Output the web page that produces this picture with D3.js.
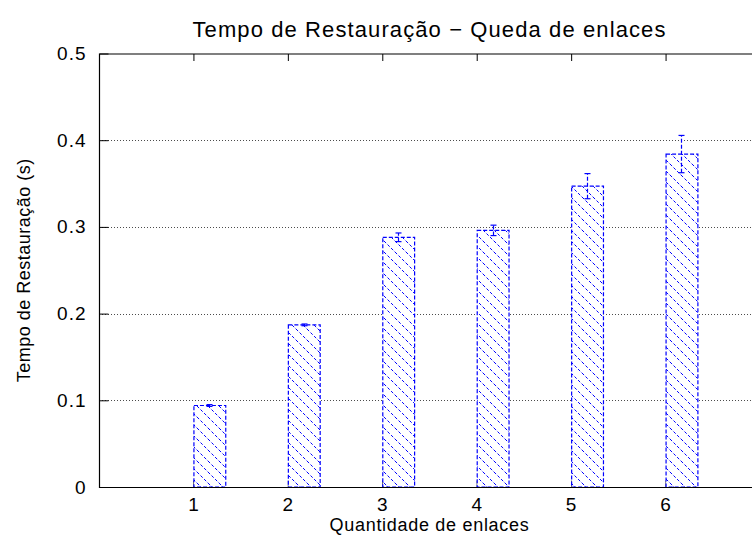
<!DOCTYPE html>
<html>
<head>
<meta charset="utf-8">
<script src="https://cdn.jsdelivr.net/npm/d3@7"></script>
<style>
  html, body { margin: 0; padding: 0; background: #fff; overflow: hidden; }
  svg { display: block; }
  text { font-family: "Liberation Sans", Arial, Helvetica, sans-serif; fill: #000; }
</style>
</head>
<body>
<script>
// Restoration time after link failures, per number of failed links
const categories = [1, 2, 3, 4, 5, 6];
const meanTimes  = [0.094, 0.187, 0.288, 0.296, 0.347, 0.384];
const errTimes   = [0.001, 0.001, 0.005, 0.006, 0.0145, 0.0215];
const yTicks     = [0, 0.1, 0.2, 0.3, 0.4, 0.5];
const yTickLabels = ["0", "0.1", "0.2", "0.3", "0.4", "0.5"];

const title  = "Tempo de Restauração − Queda de enlaces";
const xLabel = "Quantidade de enlaces";
const yLabel = "Tempo de Restauração (s)";

const W = 752, H = 544;
const plot = { left: 99, right: 760, top: 53.5, bottom: 487 };
const barWidth = 0.337;   // in category units, bar starts at the tick
const blue = "#0000ff";

const svg = d3.select("body").append("svg")
  .attr("width", W).attr("height", H);

const x = d3.scaleLinear().domain([0, 7]).range([plot.left, plot.right]);
const y = d3.scaleLinear().domain([0, 0.5]).range([plot.bottom, plot.top]);

// diagonal dashed hatch fill
const defs = svg.append("defs");
const pat = defs.append("pattern")
  .attr("id", "hatch")
  .attr("patternUnits", "userSpaceOnUse")
  .attr("width", 11).attr("height", 11);
pat.append("rect").attr("width", 11).attr("height", 11).attr("fill", "#fff");
pat.append("path")
  .attr("d", "M-1,-1 L12,12 M-1,10 L1,12 M10,-1 L12,1")
  .attr("stroke", blue).attr("stroke-width", 1)
  .attr("stroke-dasharray", "3,2");

// horizontal grid
svg.append("g").selectAll("line")
  .data(yTicks.filter(d => d > 0 && d < 0.5))
  .join("line")
  .attr("x1", plot.left).attr("x2", plot.right)
  .attr("y1", d => Math.round(y(d)) + 0.5).attr("y2", d => Math.round(y(d)) + 0.5)
  .attr("stroke", "#000").attr("stroke-opacity", 0.7)
  .attr("stroke-width", 1).attr("stroke-dasharray", "1,2");

const tickFont = g => g.selectAll("text")
  .style("font-size", "19px")
  .style("letter-spacing", "1px")
  .style("font-family", "Liberation Sans, Arial, sans-serif");

// y axis (ticks inward)
const yAxis = d3.axisLeft(y)
  .tickValues(yTicks)
  .tickFormat((d, i) => yTickLabels[i])
  .tickSize(-9).tickPadding(13);
const gy = svg.append("g")
  .attr("transform", `translate(${plot.left + 0.5},0)`)
  .call(yAxis);
gy.select(".domain").remove();
gy.call(tickFont);
gy.selectAll("line").attr("stroke", "#000");

// x axis (ticks inward, on top mirror)
const xTop = d3.axisTop(x).tickValues(categories).tickFormat("").tickSize(-7);
const gxt = svg.append("g")
  .attr("transform", `translate(0,${plot.top + 0.5})`)
  .call(xTop);
gxt.select(".domain").remove();

const xBottom = d3.axisBottom(x).tickValues(categories).tickFormat(d3.format("d"))
  .tickSize(-7).tickPadding(10);
const gxb = svg.append("g")
  .attr("transform", `translate(0,${plot.bottom + 0.5})`)
  .call(xBottom);
gxb.select(".domain").remove();
gxb.call(tickFont);

// bars
const bars = svg.append("g");
bars.selectAll("rect")
  .data(categories)
  .join("rect")
  .attr("x", (d) => x(d) + 0.5)
  .attr("y", (d, i) => y(meanTimes[i]))
  .attr("width", x(barWidth) - x(0))
  .attr("height", (d, i) => y(0) - y(meanTimes[i]))
  .attr("fill", "url(#hatch)")
  .attr("stroke", blue).attr("stroke-width", 1.2)
  .attr("stroke-dasharray", "4,2");

// error bars
const eb = svg.append("g").attr("stroke", blue).attr("stroke-width", 1.2).attr("fill", "none");
categories.forEach((c, i) => {
  const cx = Math.round(x(c + barWidth / 2)) + 0.5;
  const lo = y(meanTimes[i] - errTimes[i]);
  const hi = y(meanTimes[i] + errTimes[i]);
  eb.append("line").attr("x1", cx).attr("x2", cx).attr("y1", lo).attr("y2", hi)
    .attr("stroke-dasharray", "4,2");
  eb.append("line").attr("x1", cx - 3).attr("x2", cx + 3).attr("y1", lo).attr("y2", lo);
  eb.append("line").attr("x1", cx - 3).attr("x2", cx + 3).attr("y1", hi).attr("y2", hi);
});

// frame
svg.append("path")
  .attr("d", `M${plot.right},${plot.top + 0.5} H${plot.left + 0.5} V${plot.bottom + 0.5} H${plot.right} V${plot.top + 0.5}`)
  .attr("fill", "none").attr("stroke", "#000").attr("stroke-width", 1.2);

// titles
svg.append("text")
  .attr("x", (plot.left + plot.right) / 2).attr("y", 37)
  .attr("text-anchor", "middle")
  .style("font-size", "22px")
  .style("letter-spacing", "1.1px")
  .text(title);

svg.append("text")
  .attr("x", (plot.left + plot.right) / 2).attr("y", 531)
  .attr("text-anchor", "middle")
  .style("font-size", "18px")
  .style("letter-spacing", "0.7px")
  .text(xLabel);

svg.append("text")
  .attr("transform", `translate(30,${(plot.top + plot.bottom) / 2}) rotate(-90)`)
  .attr("text-anchor", "middle")
  .style("font-size", "18px")
  .style("letter-spacing", "0.5px")
  .text(yLabel);
</script>
</body>
</html>
